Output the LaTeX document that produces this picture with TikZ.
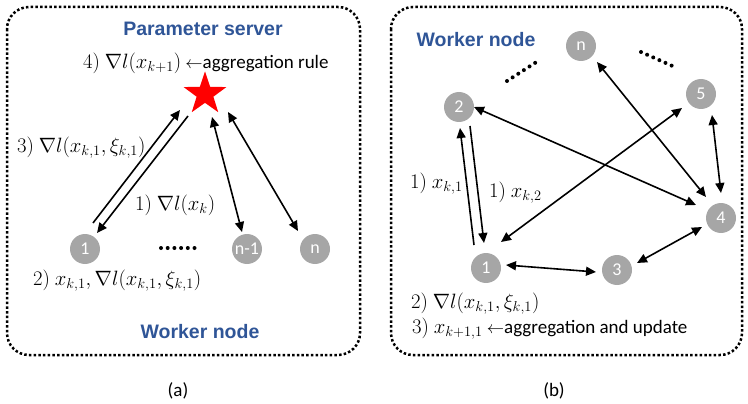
\documentclass[tikz,border=0pt]{standalone}
\usepackage{fontspec}
\setmainfont{Carlito}
\newfontfamily\hdfont{Liberation Sans}
\usetikzlibrary{arrows.meta,shapes.geometric}
\definecolor{hdblue}{RGB}{47,85,151}
\definecolor{ndgray}{RGB}{166,166,166}
\newcommand\mth[1]{{\fontsize{21}{24}\selectfont$#1$}}
\tikzset{
  panel/.style={line width=2.5pt, dash pattern=on 2.5pt off 2.2pt, rounded corners=22pt},
  wnode/.style={circle, fill=ndgray, minimum size=30pt, inner sep=0pt, text=white, font=\fontsize{18}{20}\selectfont},
  hd/.style={text=hdblue, font=\hdfont\bfseries\fontsize{19.5}{22}\selectfont},
  lbl/.style={anchor=west, inner sep=0pt, font=\fontsize{19}{22}\selectfont},
  arr/.style={line width=1.6pt, -{Triangle[length=10pt,width=9pt]}},
  darr/.style={line width=1.6pt, {Triangle[length=10pt,width=9pt]}-{Triangle[length=10pt,width=9pt]}},
  dotrow/.style={line width=4pt, dash pattern=on 0pt off 6.7pt, line cap=round}
}
\begin{document}
\begin{tikzpicture}[x=1pt,y=-1pt]
\useasboundingbox (0,0) rectangle (748,404);
% ---------- panel (a)
\draw[panel] (7,7) rectangle (360,355);
\node[hd] (ps) at (203,29) {Parameter server};
\node[lbl] (l4) at (83,63) {\mth{4)\ \nabla l(x_{k+1})} $\leftarrow$aggregation rule};
\node[star, star points=5, star point ratio=2.55, minimum size=45pt, inner sep=0pt, fill=red] (st) at (205,94) {};
\node[wnode] (a1) at (85,249) {1};
\node[wnode] (an1) at (247,249) {n-1};
\node[wnode] (an) at (315,249) {n};
\coordinate (ad1) at (161,248);
\coordinate (ad2) at (196,248);
\draw[dotrow] (ad1) -- (ad2);
\coordinate (p1) at (93,223); \coordinate (p2) at (180,110);
\coordinate (p3) at (188,116); \coordinate (p4) at (97,233);
\coordinate (p5) at (212,117); \coordinate (p6) at (242,232);
\coordinate (p7) at (228,112); \coordinate (p8) at (298,231);
\draw[arr] (p1) -- (p2);
\draw[arr] (p3) -- (p4);
\draw[darr] (p5) -- (p6);
\draw[darr] (p7) -- (p8);
\node[lbl] (l3) at (17,148) {\mth{3)\ \nabla l(x_{k,1},\xi_{k,1})}};
\node[lbl] (l1) at (135,205) {\mth{1)\ \nabla l(x_k)}};
\node[lbl] (l2) at (33,281) {\mth{2)\ x_{k,1},\nabla l(x_{k,1},\xi_{k,1})}};
\node[hd] (wa) at (200,332) {Worker node};
\node[font=\fontsize{19}{22}\selectfont] (ca) at (178,391) {(a)};
% ---------- panel (b)
\draw[panel] (391,7) rectangle (742,355);
\node[hd] (wb) at (476,40) {Worker node};
\node[wnode] (bn) at (581,46) {n};
\node[wnode] (b5) at (701,94) {5};
\node[wnode] (b2) at (459,107) {2};
\node[wnode] (b4) at (721,218) {4};
\node[wnode] (b1) at (486,268) {1};
\node[wnode] (b3) at (617,270) {3};
\coordinate (bd1) at (507,81); \coordinate (bd2) at (538,61);
\coordinate (bd3) at (641,52); \coordinate (bd4) at (677,68);
\draw[dotrow] (bd1) -- (bd2);
\draw[dotrow] (bd3) -- (bd4);
\coordinate (q1) at (474,245); \coordinate (q2) at (460,128);
\coordinate (q3) at (470,126); \coordinate (q4) at (484,243);
\coordinate (q5) at (474,107); \coordinate (q6) at (696,205);
\coordinate (q7) at (597,62);  \coordinate (q8) at (706,197);
\coordinate (q9) at (501,242); \coordinate (q10) at (682,108);
\coordinate (q11) at (712,115); \coordinate (q12) at (721,193);
\coordinate (q13) at (702,227); \coordinate (q14) at (637,263);
\coordinate (q15) at (506,265); \coordinate (q16) at (596,272);
\draw[arr] (q1) -- (q2);
\draw[arr] (q3) -- (q4);
\draw[darr] (q5) -- (q6);
\draw[darr] (q7) -- (q8);
\draw[darr] (q9) -- (q10);
\draw[darr] (q11) -- (q12);
\draw[darr] (q13) -- (q14);
\draw[darr] (q15) -- (q16);
\node[lbl] (m1) at (410,184) {\mth{1)\ x_{k,1}}};
\node[lbl] (m2) at (489,193) {\mth{1)\ x_{k,2}}};
\node[lbl] (m3) at (411,304) {\mth{2)\ \nabla l(x_{k,1},\xi_{k,1})}};
\node[lbl] (m4) at (412,329) {\mth{3)\ x_{k+1,1}} $\leftarrow$aggregation and update};
\node[font=\fontsize{19}{22}\selectfont] (cb) at (554,391) {(b)};
\end{tikzpicture}
\end{document}
